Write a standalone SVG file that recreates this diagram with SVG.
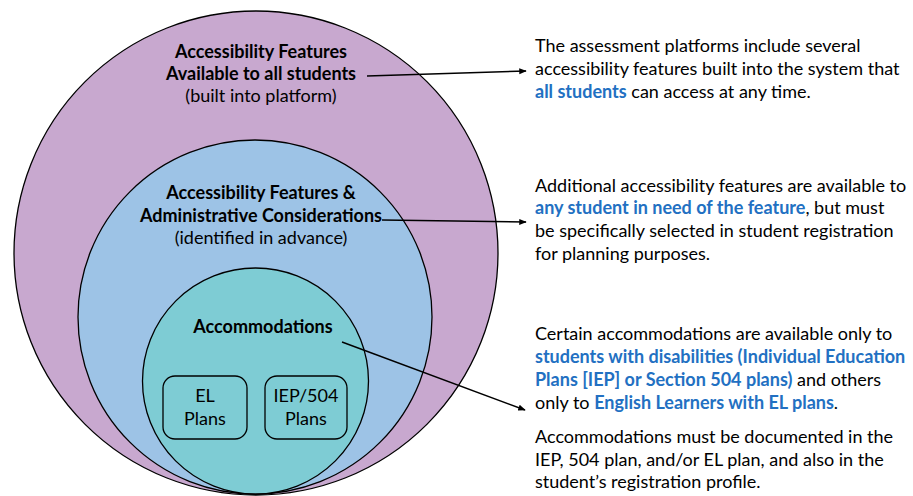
<svg xmlns="http://www.w3.org/2000/svg" width="913" height="496" viewBox="0 0 913 496">
<defs>
<style>
text{font-family:Lato,"Liberation Sans",sans-serif;fill:#000}
.c{text-anchor:middle}
.b{font-weight:bold}
.t{font-size:18px}
.r{font-size:18px}
.blue{fill:#2270C2;font-weight:bold}
.circ{stroke:#000;stroke-width:1.3}
.box{fill:none;stroke:#000;stroke-width:1.3}
.conn{stroke:#000;stroke-width:1.5;fill:none;marker-end:url(#ah)}
</style>
<marker id="ah" viewBox="0 0 10 10" refX="9" refY="5" markerWidth="5" markerHeight="5" orient="auto" markerUnits="strokeWidth">
<path d="M0,1 L10,5 L0,9 z" fill="#000"/>
</marker>
</defs>
<rect width="913" height="496" fill="#fff"/>
<g id="outer">
<circle class="circ" cx="256" cy="253" r="242" fill="#C8A8CF"/>
<text class="c b t" x="261" y="58">Accessibility Features</text>
<text class="c b t" x="261" y="80">Available to all students</text>
<text class="c t" x="261" y="102">(built into platform)</text>
</g>
<g id="middle">
<circle class="circ" cx="255" cy="317" r="177" fill="#9DC3E6"/>
<text class="c b t" x="261" y="199">Accessibility Features &amp;</text>
<text class="c b t" x="261" y="222">Administrative Considerations</text>
<text class="c t" x="261" y="244">(identified in advance)</text>
</g>
<g id="inner">
<circle class="circ" cx="255.5" cy="381" r="113" fill="#7ECCD4"/>
<text class="c b t" x="263" y="333">Accommodations</text>
</g>
<g id="el">
<rect class="box" x="163" y="376" width="84" height="63" rx="12"/>
<text class="c t" x="205" y="402">EL</text>
<text class="c t" x="205" y="425">Plans</text>
</g>
<g id="iep">
<rect class="box" x="265" y="376" width="82" height="63" rx="12"/>
<text class="c t" x="306" y="402">IEP/504</text>
<text class="c t" x="306" y="425">Plans</text>
</g>
<g id="connectors">
<line class="conn" x1="367" y1="76" x2="526" y2="71"/>
<line class="conn" x1="382" y1="220" x2="526" y2="222"/>
<line class="conn" x1="342" y1="342" x2="525" y2="410"/>
</g>
<g id="desc1">
<text class="r" x="535" y="52">The assessment platforms include several</text>
<text class="r" x="535" y="75">accessibility features built into the system that</text>
<text class="r" x="535" y="98"><tspan class="blue">all students</tspan> can access at any time.</text>
</g>
<g id="desc2">
<text class="r" x="535" y="192">Additional accessibility features are available to</text>
<text class="r" x="535" y="214"><tspan class="blue">any student in need of the feature</tspan>, but must</text>
<text class="r" x="535" y="237">be specifically selected in student registration</text>
<text class="r" x="535" y="260">for planning purposes.</text>
</g>
<g id="desc3">
<text class="r" x="535" y="340">Certain accommodations are available only to</text>
<text class="r" x="535" y="363"><tspan class="blue">students with disabilities (Individual Education</tspan></text>
<text class="r" x="535" y="386"><tspan class="blue">Plans [IEP] or Section 504 plans)</tspan> and others</text>
<text class="r" x="535" y="409">only to <tspan class="blue">English Learners with EL plans</tspan>.</text>
</g>
<g id="desc4">
<text class="r" x="535" y="443">Accommodations must be documented in the</text>
<text class="r" x="535" y="466">IEP, 504 plan, and/or EL plan, and also in the</text>
<text class="r" x="535" y="488">student’s registration profile.</text>
</g>
</svg>
